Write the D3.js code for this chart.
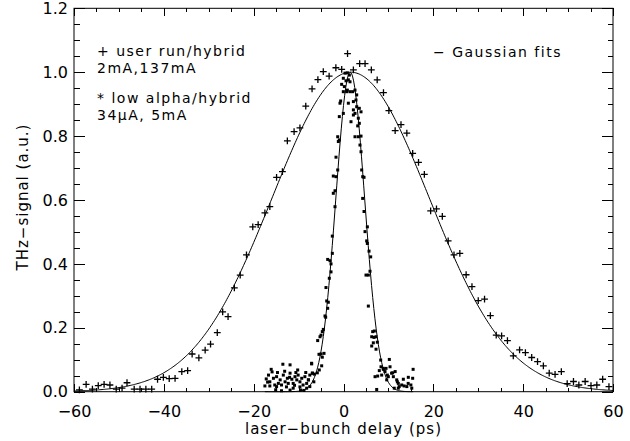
<!DOCTYPE html>
<html>
<head>
<meta charset="utf-8">
<script src="https://cdn.jsdelivr.net/npm/d3@7"></script>
<style>
body { margin: 0; background: #fff; }
text { font-family: "DejaVu Sans", sans-serif; fill: #000; }
</style>
</head>
<body>
<div id="chart"></div>
<script>
// ---- data ----
// "+" : user run / hybrid (broad)
let plusX = [-58.8, -57.3, -55.9, -54.6, -53.3, -52.0, -50.6, -49.3, -48.2, -46.6, -45.3, -44.0, -42.7,
  -41.4, -40.1, -38.8, -37.5, -36.0, -34.7, -33.7, -32.2, -30.8, -29.6, -28.1, -26.9, -25.7, -24.3,
  -23.0, -21.6, -20.2, -19.0, -17.5, -16.4, -14.9, -13.6, -12.5, -11.0, -9.7, -8.4, -7.0, -5.7,
  -4.5, -3.2, -1.7, -0.4, 0.9, 2.2, 3.6, 4.8, 6.2, 7.5, 8.9, 10.1, 11.5, 12.8, 14.1, 15.4, 16.7,
  18.0, 19.4, 20.7, 22.0, 23.3, 24.6, 25.9, 27.3, 28.6, 30.0, 31.4, 32.7, 34.0, 35.2, 36.5, 37.8,
  39.2, 40.5, 41.9, 43.2, 44.5, 45.8, 47.1, 48.5, 49.8, 51.2, 52.4, 53.8, 55.1, 56.4, 57.7, 59.1];
let plusY = [0.006, 0.023, 0.008, 0.019, 0.023, 0.021, 0.008, 0.011, 0.028, 0.008, 0.008, 0.008, 0.008,
  0.039, 0.045, 0.041, 0.042, 0.063, 0.066, 0.118, 0.106, 0.130, 0.149, 0.185, 0.250, 0.235, 0.325,
  0.365, 0.428, 0.516, 0.523, 0.560, 0.579, 0.671, 0.689, 0.785, 0.814, 0.826, 0.894, 0.948, 0.977,
  1.002, 0.988, 1.014, 1.009, 1.058, 1.007, 1.027, 1.027, 1.007, 0.976, 0.936, 0.880, 0.817, 0.836,
  0.809, 0.746, 0.718, 0.680, 0.566, 0.572, 0.549, 0.472, 0.428, 0.433, 0.366, 0.329, 0.285, 0.290,
  0.238, 0.177, 0.175, 0.160, 0.112, 0.131, 0.122, 0.107, 0.094, 0.081, 0.058, 0.054, 0.063, 0.025,
  0.032, 0.021, 0.032, 0.019, 0.021, 0.039, 0.016];

// "*" : low alpha / hybrid (narrow)
let dotX = [-17.5, -16.7, -16.1, -16.4, -15.6, -15.3, -14.9, -14.5, -14.1, -13.5, -13.4, -13.0, -12.5,
  -11.9, -11.9, -11.5, -11.2, -10.8, -10.4, -10.1, -9.7, -9.3, -9.0, -8.6, -8.2, -7.8, -7.5, -7.1,
  -7.5, -6.9, -6.6, -16.4, -14.9, -12.7, -11.2, -9.7, -8.2, -13.8, -12.3, -17.2, -15.9, -14.7,
  -13.1, -12.0, -10.6, -9.5, -8.8, -15.1, -13.8, -11.9, -10.9, -16.9, -8.4, -10.2,
  -7.83, -7.09, -6.95, -6.5, -5.83, -5.75, -5.46, -5.39, -5.23, -5.0, -5.0, -4.86, -4.72, -4.72,
  -4.49, -4.34, -4.12, -3.97, -3.90, -3.74, -3.52, -3.52, -3.38, -3.16, -3.0, -2.78, -2.78, -2.49,
  -2.49, -2.27, -2.27, -1.89, -1.89, -1.67, -1.67, -1.29, -1.29, -1.15, -0.93, -0.93, -0.78, -0.63,
  -0.41, -0.04, -0.04, -0.04, 0.19, 0.33, 0.56, 0.71, 0.85, 0.85, 1.08, 1.08, 1.30, 1.45, 1.45,
  1.67, 2.04, 2.20, 2.20, 2.20, 2.56, 2.56, 2.56, 2.78, 2.94, 2.94, 3.16, 3.30, 3.30, 3.52, 3.52,
  3.67, 3.90, 3.90, 3.90, 4.05, 4.28, 4.27, 4.57, 4.57, 4.79, 5.16, 5.31, 5.31, 5.53, 5.53, 5.68,
  5.90, 6.05, 5.01, 6.28, 6.28, 6.50, 6.64, 6.79, 6.87, 7.02, 7.24, 7.24, 7.39, 7.53, 7.61,
  7.97, 8.35, 8.86, 8.50, 9.24, 9.76, 10.2, 10.36, 10.7, 11.1, 11.5, 11.85, 12.2, 12.4, 12.96,
  13.5, 14.1, 14.4, 15.0, 15.4, 15.5, 15.2, 12.2, 11.3, 8.28, 8.87, 9.47, 10.95, 9.62, 11.99, 13.32,
  14.43, 9.98];
let dotY = [0.018, 0.052, 0.070, 0.031, 0.042, 0.021, 0.047, 0.026, 0.037, 0.086, 0.052, 0.031, 0.042,
  0.084, 0.058, 0.039, 0.026, 0.047, 0.037, 0.052, 0.031, 0.042, 0.021, 0.047, 0.026, 0.037, 0.016, 0.089,
  0.052, 0.058, 0.031, 0.018, 0.016, 0.015, 0.011, 0.015, 0.011, 0.021, 0.026, 0.040, 0.062, 0.060,
  0.064, 0.045, 0.060, 0.005, 0.004, 0.006, 0.003, 0.005, 0.020, 0.030, 0.060, 0.068,
  0.037, 0.087, 0.058, 0.055, 0.059, 0.160, 0.117, 0.068, 0.172, 0.177, 0.118, 0.081, 0.188, 0.108,
  0.195, 0.120, 0.237, 0.233, 0.326, 0.284, 0.261, 0.414, 0.280, 0.355, 0.410, 0.400, 0.375, 0.487,
  0.433, 0.621, 0.675, 0.629, 0.579, 0.734, 0.673, 0.798, 0.694, 0.783, 0.861, 0.788, 0.903, 0.910,
  0.962, 0.981, 0.939, 0.871, 0.955, 0.997, 0.973, 0.939, 0.998, 0.944, 0.976, 0.903, 0.991, 0.970, 0.939,
  0.845, 0.939, 0.908, 0.882, 0.866, 0.944, 0.871, 0.798, 0.913, 0.929, 0.892, 0.832, 0.856, 0.798, 0.887, 0.840,
  0.772, 0.876, 0.800, 0.751, 0.694, 0.673, 0.605, 0.671, 0.564, 0.501, 0.472, 0.516, 0.464, 0.365, 0.268, 0.440,
  0.377, 0.422, 0.365, 0.172, 0.143, 0.188, 0.153, 0.170, 0.190, 0.047, 0.172, 0.133, 0.007, 0.155, 0.049,
  0.066, 0.078, 0.073, 0.052, 0.063, 0.052, 0.101, 0.078, 0.058, 0.047, 0.063, 0.037, 0.026, 0.016, 0.021,
  0.018, 0.016, 0.026, 0.021, 0.042, 0.070, 0.011, 0.011, 0.011, 0.099, 0.070, 0.073, 0.059, 0.037, 0.031, 0.039,
  0.045, 0.047];

// Gaussian fit parameters: [amplitude, centre, sigma, xmin, xmax]
let broadFit = [1.0, 1.6, 17.5, -60, 60];
let narrowFit = [1.0, 1.5, 3.2, -17.5, 15.5];

let xTicks = [-60, -40, -20, 0, 20, 40, 60];
let yTicks = [0.0, 0.2, 0.4, 0.6, 0.8, 1.0, 1.2];

// ---- layout ----
let width = 630, height = 441;
let plotLeft = 74, plotRight = 613, plotTop = 8.3, plotBottom = 391.7;

let svg = d3.select("#chart").append("svg")
  .attr("width", width)
  .attr("height", height);

let xScale = d3.scaleLinear().domain([-60, 60]).range([plotLeft, plotRight]);
let yScale = d3.scaleLinear().domain([0, 1.2]).range([plotBottom, plotTop]);

// axes (ticks point inward like the original)
function styleAxis(g) {
  g.select(".domain").remove();
  g.selectAll("line").attr("stroke", "#000").attr("shape-rendering", "crispEdges");
  g.selectAll("text").style("font-size", "16px").attr("fill", "#000");
}

svg.append("g").attr("transform", `translate(0,${plotBottom})`)
  .call(d3.axisBottom(xScale).tickValues(xTicks).tickSize(-7.5).tickPadding(14).tickFormat(d3.format("d")))
  .call(styleAxis);
svg.append("g").attr("transform", `translate(0,${plotBottom})`)
  .call(d3.axisBottom(xScale).tickValues(d3.range(-60, 61, 5)).tickSize(-3.8).tickFormat(""))
  .call(styleAxis);
svg.append("g").attr("transform", `translate(0,${plotTop})`)
  .call(d3.axisTop(xScale).tickValues(xTicks).tickSize(-7.5).tickFormat(""))
  .call(styleAxis);
svg.append("g").attr("transform", `translate(0,${plotTop})`)
  .call(d3.axisTop(xScale).tickValues(d3.range(-60, 61, 5)).tickSize(-3.8).tickFormat(""))
  .call(styleAxis);

svg.append("g").attr("transform", `translate(${plotLeft},0)`)
  .call(d3.axisLeft(yScale).tickValues(yTicks).tickSize(-11).tickPadding(6).tickFormat(d3.format(".1f")))
  .call(styleAxis);
svg.append("g").attr("transform", `translate(${plotLeft},0)`)
  .call(d3.axisLeft(yScale).tickValues(d3.range(0, 1.201, 0.05)).tickSize(-5.5).tickFormat(""))
  .call(styleAxis);
svg.append("g").attr("transform", `translate(${plotRight},0)`)
  .call(d3.axisRight(yScale).tickValues(yTicks).tickSize(-11).tickFormat(""))
  .call(styleAxis);
svg.append("g").attr("transform", `translate(${plotRight},0)`)
  .call(d3.axisRight(yScale).tickValues(d3.range(0, 1.201, 0.05)).tickSize(-5.5).tickFormat(""))
  .call(styleAxis);

// frame
svg.append("rect")
  .attr("x", plotLeft).attr("y", plotTop)
  .attr("width", plotRight - plotLeft).attr("height", plotBottom - plotTop)
  .attr("fill", "none").attr("stroke", "#000").attr("stroke-width", 1);

// fit curves
let line = d3.line().x(d => xScale(d[0])).y(d => yScale(d[1]));
function fitPoints(p) {
  return d3.range(p[3], p[4] + 0.001, 0.25).map(v => [v, p[0] * Math.exp(-((v - p[1]) ** 2) / (2 * p[2] * p[2]))]);
}
svg.append("path").datum(fitPoints(broadFit)).attr("d", line)
  .attr("fill", "none").attr("stroke", "#000").attr("stroke-width", 1);
svg.append("path").datum(fitPoints(narrowFit)).attr("d", line)
  .attr("fill", "none").attr("stroke", "#000").attr("stroke-width", 1);

// narrow series: small filled squares
svg.append("g").selectAll("rect").data(dotX).enter().append("rect")
  .attr("x", (d, i) => xScale(d) - 1.5)
  .attr("y", (d, i) => yScale(dotY[i]) - 1.5)
  .attr("width", 3).attr("height", 3)
  .attr("fill", "#000");

// broad series: plus signs
svg.append("g").selectAll("path").data(plusX).enter().append("path")
  .attr("transform", (d, i) => `translate(${xScale(d)},${yScale(plusY[i])})`)
  .attr("d", "M-3.4,0H3.4M0,-3.4V3.4")
  .attr("stroke", "#000").attr("stroke-width", 1.3);

// labels
let labelStyle = t => t.style("font-size", "15px").style("letter-spacing", "1px");

svg.append("text").attr("x", (plotLeft + plotRight) / 2).attr("y", 434)
  .attr("text-anchor", "middle").text("laser\u2212bunch delay (ps)").call(labelStyle);
svg.append("text").attr("transform", "translate(28,197) rotate(-90)")
  .attr("text-anchor", "middle").text("THz\u2212signal (a.u.)").call(labelStyle);

// legend text
let legendLines = [
  ["+ user run/hybrid", 97, 56],
  ["2mA,137mA", 97, 73],
  ["* low alpha/hybrid", 97, 103],
  ["34\u03bcA, 5mA", 97, 120],
  ["\u2212 Gaussian fits", 433, 57]
];
svg.append("g").selectAll("text").data(legendLines).enter().append("text")
  .attr("x", d => d[1]).attr("y", d => d[2])
  .text(d => d[0])
  .style("font-size", "14px").style("letter-spacing", "1.5px");
</script>
</body>
</html>
